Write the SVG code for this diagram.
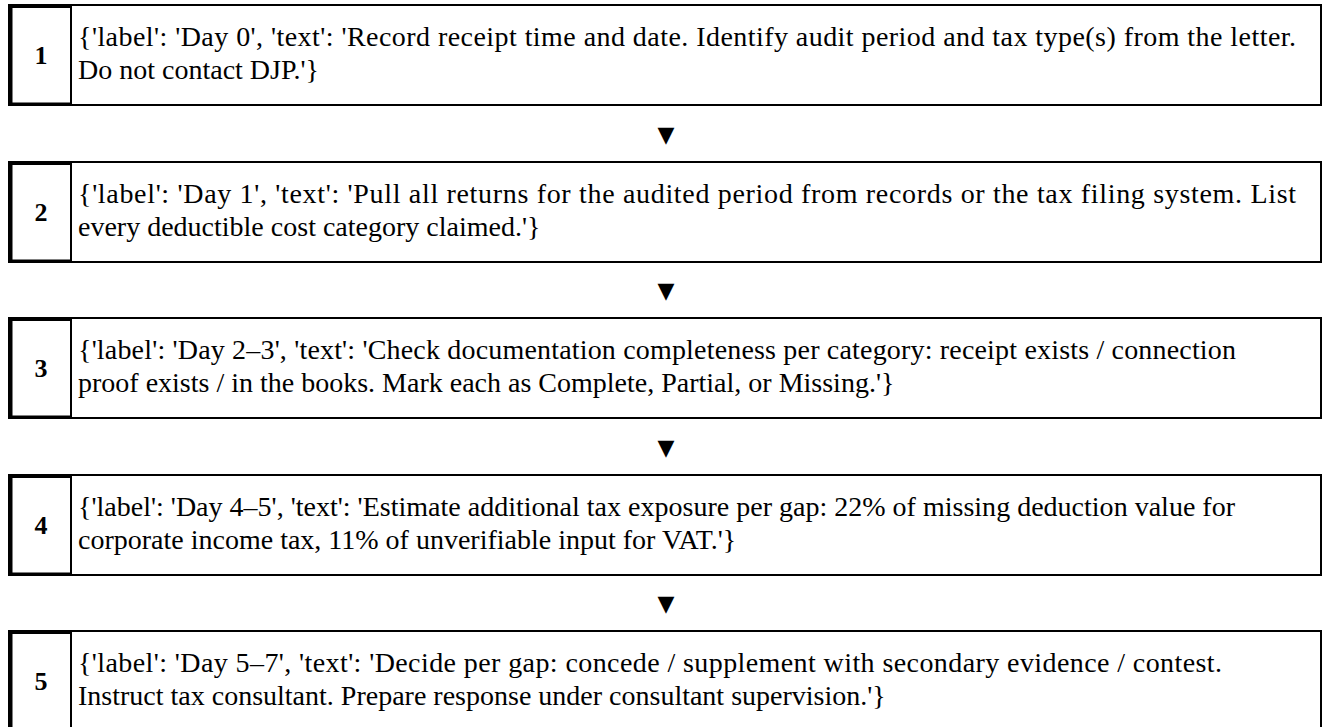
<svg xmlns="http://www.w3.org/2000/svg" width="1324" height="727" viewBox="0 0 1324 727">
<style>
.box{fill:#fff;stroke:#000;stroke-width:2}
.cell{fill:none;stroke:#000;stroke-width:2}
.num{font-family:"Liberation Serif","DejaVu Serif",serif;font-weight:bold;font-size:26px;text-anchor:middle;fill:#000}
.txt{font-family:"Liberation Serif","DejaVu Serif",serif;font-size:28px;fill:#000}
.arr{font-family:"DejaVu Sans",sans-serif;font-size:22px;text-anchor:middle;fill:#000}
</style>
<rect width="1324" height="727" fill="#fff"/>
<g id="step1" transform="translate(0,5)">
<rect class="box" x="9" y="0" width="1312" height="100"/>
<rect class="cell" x="11.5" y="2" width="59.5" height="96.5"/>
<line x1="10.5" y1="1" x2="10.5" y2="99" stroke="#000" stroke-width="3"/>
<text class="num" x="41" y="59">1</text>
<text class="txt" x="78" y="41" textLength="1218" lengthAdjust="spacing">{'label': 'Day 0', 'text': 'Record receipt time and date. Identify audit period and tax type(s) from the letter.</text>
<text class="txt" x="78" y="74">Do not contact DJP.'}</text>
</g>
<g id="step2" transform="translate(0,162)">
<rect class="box" x="9" y="0" width="1312" height="100"/>
<rect class="cell" x="11.5" y="2" width="59.5" height="96.5"/>
<line x1="10.5" y1="1" x2="10.5" y2="99" stroke="#000" stroke-width="3"/>
<text class="num" x="41" y="59">2</text>
<text class="txt" x="78" y="41" textLength="1218" lengthAdjust="spacing">{'label': 'Day 1', 'text': 'Pull all returns for the audited period from records or the tax filing system. List</text>
<text class="txt" x="78" y="74">every deductible cost category claimed.'}</text>
</g>
<g id="step3" transform="translate(0,318)">
<rect class="box" x="9" y="0" width="1312" height="100"/>
<rect class="cell" x="11.5" y="2" width="59.5" height="96.5"/>
<line x1="10.5" y1="1" x2="10.5" y2="99" stroke="#000" stroke-width="3"/>
<text class="num" x="41" y="59">3</text>
<text class="txt" x="78" y="41" textLength="1158" lengthAdjust="spacing">{'label': 'Day 2–3', 'text': 'Check documentation completeness per category: receipt exists / connection</text>
<text class="txt" x="78" y="74">proof exists / in the books. Mark each as Complete, Partial, or Missing.'}</text>
</g>
<g id="step4" transform="translate(0,475)">
<rect class="box" x="9" y="0" width="1312" height="100"/>
<rect class="cell" x="11.5" y="2" width="59.5" height="96.5"/>
<line x1="10.5" y1="1" x2="10.5" y2="99" stroke="#000" stroke-width="3"/>
<text class="num" x="41" y="59">4</text>
<text class="txt" x="78" y="41" textLength="1157" lengthAdjust="spacing">{'label': 'Day 4–5', 'text': 'Estimate additional tax exposure per gap: 22% of missing deduction value for</text>
<text class="txt" x="78" y="74">corporate income tax, 11% of unverifiable input for VAT.'}</text>
</g>
<g id="step5" transform="translate(0,631)">
<rect class="box" x="9" y="0" width="1312" height="100"/>
<rect class="cell" x="11.5" y="2" width="59.5" height="96.5"/>
<line x1="10.5" y1="1" x2="10.5" y2="99" stroke="#000" stroke-width="3"/>
<text class="num" x="41" y="59">5</text>
<text class="txt" x="78" y="41" textLength="1144" lengthAdjust="spacing">{'label': 'Day 5–7', 'text': 'Decide per gap: concede / supplement with secondary evidence / contest.</text>
<text class="txt" x="78" y="74">Instruct tax consultant. Prepare response under consultant supervision.'}</text>
</g>
<g id="connectors">
<text class="arr" x="666" y="142">▼</text>
<text class="arr" x="666" y="298">▼</text>
<text class="arr" x="666" y="455">▼</text>
<text class="arr" x="666" y="611">▼</text>
</g>
</svg>
